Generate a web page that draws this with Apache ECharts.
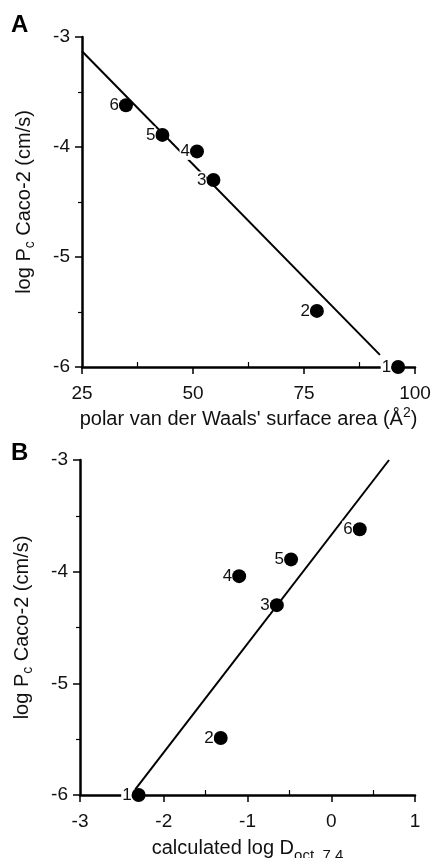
<!DOCTYPE html>
<html>
<head>
<meta charset="utf-8">
<script src="https://cdn.jsdelivr.net/npm/echarts@6/dist/echarts.min.js"></script>
<style>html,body{margin:0;padding:0;background:#fff}#c{width:435px;height:858px}</style>
</head>
<body>
<div id="c"></div>
<script>
// Panel A: polar van der Waals' surface area vs log Pc
const compoundLabels = ['1', '2', '3', '4', '5', '6'];
const psaValues = [96.2, 77.9, 54.6, 50.9, 43.1, 34.9];
const logPcValues = [-6.0, -5.49, -4.30, -4.04, -3.89, -3.62];
const fitA_x = [25, 92.1];
const fitA_y = [-3.13, -5.89];
// Panel B: calculated log D vs log Pc
const logDValues = [-2.30, -1.32, -0.65, -1.10, -0.48, 0.34];
const fitB_x = [-2.34, 0.69];
const fitB_y = [-5.95, -3.0];
const yTicks = [-6, -5, -4, -3];
const xTicksA = [25, 50, 75, 100];
const xTicksB = [-3, -2, -1, 0, 1];

const FONT = 'Liberation Sans, Arial, Helvetica, sans-serif';
const TXT = '#111';
const chart = echarts.init(document.getElementById('c'), null, {renderer: 'canvas'});

function pts(xs, ys) { return xs.map((x, i) => ({value: [x, ys[i]], name: compoundLabels[i]})); }
function line(xs, ys) { return xs.map((x, i) => [x, ys[i]]); }

const axisCommon = {
  type: 'value',
  axisLine: {show: true, onZero: false, lineStyle: {color: '#000', width: 2.5}},
  axisTick: {show: true, length: 7, lineStyle: {color: '#000', width: 1.5}},
  splitLine: {show: false},
  axisLabel: {color: TXT, fontSize: 19, fontFamily: FONT},
  nameLocation: 'middle',
  nameTextStyle: {color: TXT, fontSize: 20, fontFamily: FONT}
};

function xAxis(idx, min, max, interval, ticks, name, rich, gap) {
  return Object.assign({}, axisCommon, {
    gridIndex: idx, min, max, interval, name, nameGap: gap,
    nameTextStyle: Object.assign({}, axisCommon.nameTextStyle, {rich}),
    axisLabel: Object.assign({}, axisCommon.axisLabel, {margin: 17,
      formatter: v => ticks.indexOf(v) >= 0 ? String(v) : ''}),
    minorTick: {show: true, splitNumber: 2, length: -5, lineStyle: {color: '#000', width: 1.2}}
  });
}
function yAxis(idx) {
  return Object.assign({}, axisCommon, {
    gridIndex: idx, min: -6, max: -3, interval: 1,
    name: '{n|log P}{s|c}{n| Caco-2 (cm/s)}', nameGap: 45,
    nameTextStyle: Object.assign({}, axisCommon.nameTextStyle, {
      rich: {n: {fontSize: 20, fontFamily: FONT, color: TXT}, s: {fontSize: 14, fontFamily: FONT, color: TXT, padding: [12, 0, 0, 0]}}
    }),
    axisLabel: Object.assign({}, axisCommon.axisLabel, {margin: 12,
      formatter: v => yTicks.indexOf(v) >= 0 ? String(v) : ''}),
    minorTick: {show: true, splitNumber: 2, length: 4, lineStyle: {color: '#000', width: 1.2}}
  });
}

const scatterLabel = {
  show: true, position: 'left', distance: 0, formatter: '{b}',
  color: TXT, fontSize: 17, fontFamily: FONT, backgroundColor: '#fff', padding: [0, 0, 0, 1]
};

chart.setOption({
  animation: false,
  backgroundColor: '#fff',
  graphic: [
    {type: 'text', left: 11, top: 13, style: {text: 'A', font: 'bold 24px ' + FONT, fill: '#000'}},
    {type: 'text', left: 11, top: 441, style: {text: 'B', font: 'bold 24px ' + FONT, fill: '#000'}}
  ],
  grid: [
    {left: 82, right: 20, top: 37, bottom: 491, containLabel: false, outerBoundsMode: 'none'},
    {left: 80, right: 20, top: 460, bottom: 63, containLabel: false, outerBoundsMode: 'none'}
  ],
  xAxis: [
    xAxis(0, 25, 100, 25, xTicksA, "polar van der Waals' surface area (Å{sup|2})",
      {sup: {fontSize: 14, fontFamily: FONT, color: TXT, padding: [0, 0, 12, 0]}}, 39),
    xAxis(1, -3, 1, 1, xTicksB, 'calculated log D{sub|oct. 7.4}',
      {sub: {fontSize: 15, fontFamily: FONT, color: TXT, padding: [14, 0, 0, 0]}}, 39)
  ],
  yAxis: [yAxis(0), yAxis(1)],
  series: [
    {type: 'line', xAxisIndex: 0, yAxisIndex: 0, data: line(fitA_x, fitA_y), symbol: 'none',
      lineStyle: {color: '#000', width: 2}, z: 1},
    {type: 'scatter', xAxisIndex: 0, yAxisIndex: 0, data: pts(psaValues, logPcValues), symbolSize: 14,
      itemStyle: {color: '#000', opacity: 1}, label: scatterLabel, z: 3},
    {type: 'line', xAxisIndex: 1, yAxisIndex: 1, data: line(fitB_x, fitB_y), symbol: 'none',
      lineStyle: {color: '#000', width: 2}, z: 1},
    {type: 'scatter', xAxisIndex: 1, yAxisIndex: 1, data: pts(logDValues, logPcValues), symbolSize: 14,
      itemStyle: {color: '#000', opacity: 1}, label: scatterLabel, z: 3}
  ]
});
</script>
</body>
</html>
